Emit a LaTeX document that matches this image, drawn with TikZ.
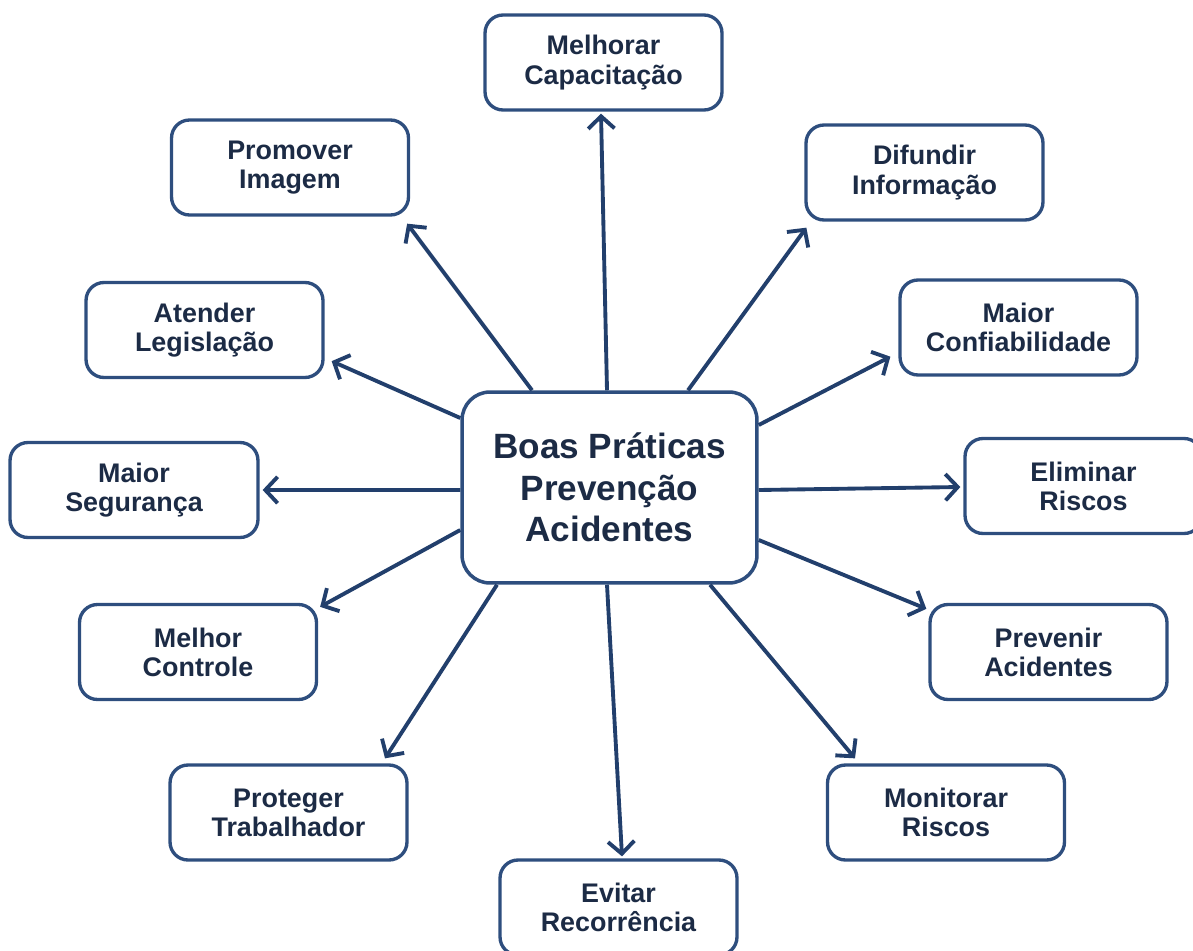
\documentclass[tikz,border=0pt]{standalone}
\usepackage{fontspec}
\setmainfont{Liberation Sans}
\usetikzlibrary{arrows.meta,calc}
\definecolor{boxline}{HTML}{2E4E7E}
\definecolor{arrline}{HTML}{223F6C}
\definecolor{txt}{HTML}{1C2B45}
\begin{document}
\begin{tikzpicture}[x=0.02cm,y=-0.02cm,
  leaf/.style={draw=boxline, line width=1.9pt, rounded corners=0.36cm, fill=white,
    minimum width=4.74cm, minimum height=1.9cm, inner sep=0pt, align=center,
    text=txt, font=\fontsize{15.3}{16.6}\selectfont\bfseries},
  hub/.style={draw=boxline, line width=2pt, rounded corners=0.56cm, fill=white,
    minimum width=5.9cm, minimum height=3.82cm, inner sep=0pt, align=center,
    text=txt, font=\fontsize{20}{23.5}\selectfont\bfseries},
  arr/.style={draw=arrline, line width=2.2pt, -{Straight Barb[length=7pt,width=15pt,line width=2.2pt]}}]
\useasboundingbox (0,0) rectangle (1193,950);
\clip (0,0) rectangle (1193,950);

% central theme
\node[hub] (c) at (609.5,487.5) {Boas Práticas\\Prevenção\\Acidentes};

% surrounding outcomes
\node[leaf] (mc)  at (603.5,62.5)  {Melhorar\\Capacitação};
\node[leaf] (pi)  at (290,167.5)   {Promover\\Imagem};
\node[leaf] (df)  at (924.5,172.5) {Difundir\\Informação};
\node[leaf] (al)  at (204.5,330)   {Atender\\Legislação};
\node[leaf] (mf)  at (1018.5,327.5){Maior\\Confiabilidade};
\node[leaf, minimum width=4.96cm] (ms) at (134,490) {Maior\\Segurança};
\node[leaf] (er)  at (1083.5,486)  {Eliminar\\Riscos};
\node[leaf] (mcn) at (198,652)     {Melhor\\Controle};
\node[leaf] (pa)  at (1048.5,652)  {Prevenir\\Acidentes};
\node[leaf] (pt)  at (288.5,812.5) {Proteger\\Trabalhador};
\node[leaf] (mr)  at (946,812.5)   {Monitorar\\Riscos};
\node[leaf] (ev)  at (618.5,907.5) {Evitar\\Recorrência};

% spokes
\draw[arr] ($(c.north)+(-2.5,0)$)   -- ($(mc.south)+(-2.5,2)$);
\draw[arr] ($(c.north)+(-77.5,0)$)  -- ($(pi.south east)+(-3,7)$);
\draw[arr] ($(c.north)+(78.5,0)$)   -- ($(df.south west)+(2,6)$);
\draw[arr] ($(c.west)+(0,-69.5)$)   -- ($(al.south east)+(7,-18)$);
\draw[arr] ($(c.east)+(0,-62.5)$)   -- ($(mf.south west)+(-8,-20)$);
\draw[arr] ($(c.west)+(0,2.5)$)     -- ($(ms.east)+(3,0)$);
\draw[arr] ($(c.east)+(0,2.5)$)     -- ($(er.west)+(-3,1)$);
\draw[arr] ($(c.west)+(0,42.5)$)    -- ($(mcn.north east)+(2,4)$);
\draw[arr] ($(c.east)+(0,52.5)$)    -- ($(pa.north west)+(-2,6)$);
\draw[arr] ($(c.south)+(-112.5,0)$) -- ($(pt.north)+(96.5,-5)$);
\draw[arr] ($(c.south)+(100.5,0)$)  -- ($(mr.north)+(-91,-5)$);
\draw[arr] ($(c.south)+(-2.5,0)$)   -- ($(ev.north)+(3.5,-2)$);
\end{tikzpicture}
\end{document}
